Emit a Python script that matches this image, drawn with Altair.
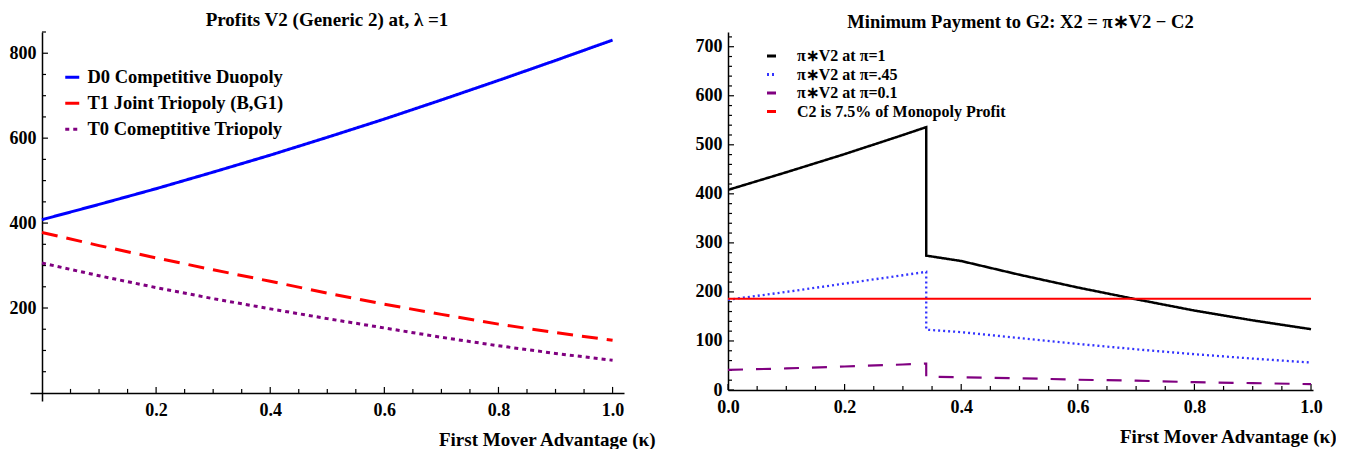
import altair as alt
import pandas as pd

# ---------------- data ----------------
kappa = [0.0, 0.1, 0.2, 0.3, 0.4, 0.5, 0.6, 0.7, 0.8, 0.9, 1.0]
d0 = [408, 444, 481, 520, 560, 602, 645, 690, 736, 783, 831]
t1 = [378, 347, 318, 290, 263, 235, 209, 185, 162, 142, 124]
t0 = [306, 276, 248, 222, 198, 175, 153, 131, 111, 93, 77]

left_names = ["D0 Competitive Duopoly", "T1 Joint Triopoly (B,G1)", "T0 Comeptitive Triopoly"]
left_colors = ["#0000ff", "#ff0000", "#800080"]
left_dashes = [[1, 0], [16, 9], [4, 4]]

right_kappa = [0.0, 0.1, 0.2, 0.3, 0.34, 0.34, 0.4, 0.5, 0.6, 0.7, 0.8, 0.9, 1.0]
pv_1 = [408, 444, 481, 520, 536, 274, 263, 235, 209, 185, 162, 142, 124]
pv_45 = [184, 200, 217, 234, 241, 123, 118, 106, 94, 83, 73, 64, 56]
pv_01 = [41, 44, 48, 52, 54, 27, 26, 24, 21, 19, 16, 14, 12]
c2_kappa = [0.0, 1.0]
c2 = [186, 186]

right_names = ["π∗V2 at π=1", "π∗V2 at π=.45", "π∗V2 at π=0.1", "C2 is 7.5% of Monopoly Profit"]
right_colors = ["#000000", "#3333ff", "#800080", "#ff0000"]
right_dashes = [[1, 0], [2, 3], [15, 13], [1, 0]]
right_widths = [2.5, 2, 3, 3]

# tick positions
lx_major = [0.2, 0.4, 0.6, 0.8, 1.0]
lx_minor = [0.05, 0.1, 0.15, 0.25, 0.3, 0.35, 0.45, 0.5, 0.55, 0.65, 0.7, 0.75, 0.85, 0.9, 0.95]
ly_major = [200, 400, 600, 800]
ly_minor = [50, 100, 150, 250, 300, 350, 450, 500, 550, 650, 700, 750, 850]
rx_major = [0.0, 0.2, 0.4, 0.6, 0.8, 1.0]
rx_minor = [0.05, 0.1, 0.15, 0.25, 0.3, 0.35, 0.45, 0.5, 0.55, 0.65, 0.7, 0.75, 0.85, 0.9, 0.95]
ry_major = [0, 100, 200, 300, 400, 500, 600, 700]
ry_minor = [20, 40, 60, 80, 120, 140, 160, 180, 220, 240, 260, 280, 320, 340, 360, 380,
            420, 440, 460, 480, 520, 540, 560, 580, 620, 640, 660, 680, 720]

FONT = "Liberation Serif"
XTITLE = "First Mover Advantage (κ)"


def panel(df, names, colors, dashes, widths, legend, xdom, ydom, W, H,
          xvals, yvals, xmaj, xmin, ymaj, ymin, xoff, yoff, title, title_size, title_dx,
          extra=None):
    xs = alt.Scale(domain=xdom, nice=False, zero=False)
    ys = alt.Scale(domain=ydom, nice=False, zero=False)
    xpx = (xdom[1] - xdom[0]) / W
    ypx = (ydom[1] - ydom[0]) / H
    xaxis = alt.Axis(values=xvals, format=".1f", offset=xoff, ticks=False, labelPadding=8,
                     labelFlush=False,
                     title=XTITLE, titleAnchor="end", titleAlign="right",
                     titleX=W + title_dx, titleY=52, titleBaseline="alphabetic")
    yaxis = alt.Axis(values=yvals, offset=yoff, ticks=False, labelPadding=6, labelFlush=False,
                     title=None)

    def X(f="k:Q"):
        return alt.X(f, scale=xs, axis=xaxis)

    def Y(f="v:Q"):
        return alt.Y(f, scale=ys, axis=yaxis)

    layers = []
    # inward ticks on the x axis
    for vals, ln in [(xmaj, 6), (xmin, 4)]:
        tdf = pd.DataFrame({"k": vals, "v": [0] * len(vals), "v2": [ln * ypx] * len(vals)})
        layers.append(alt.Chart(tdf).mark_rule(color="black", strokeWidth=1.2).encode(
            x=X(), y=Y(), y2="v2:Q"))
    # inward ticks on the y axis
    for vals, ln in [(ymaj, 6), (ymin, 4)]:
        tdf = pd.DataFrame({"v": vals, "k": [0] * len(vals), "k2": [ln * xpx] * len(vals)})
        layers.append(alt.Chart(tdf).mark_rule(color="black", strokeWidth=1.2).encode(
            x=X(), x2="k2:Q", y=Y()))

    cscale = alt.Scale(domain=names, range=colors)
    dscale = alt.Scale(domain=names, range=dashes)
    enc = dict(
        x=X(), y=Y(),
        color=alt.Color("s:N", scale=cscale, legend=legend),
        strokeDash=alt.StrokeDash("s:N", scale=dscale, legend=legend),
        order="i:Q",
    )
    if widths is not None:
        enc["strokeWidth"] = alt.StrokeWidth("s:N", scale=alt.Scale(domain=names, range=widths), legend=None)
        lines = alt.Chart(df).mark_line(clip=True).encode(**enc)
    else:
        lines = alt.Chart(df).mark_line(strokeWidth=3, clip=True).encode(**enc)
    layers.append(lines)

    chart = alt.layer(*layers)
    if extra is not None:
        chart = alt.layer(chart, *extra(cscale, dscale, W, H)).resolve_scale(y="independent")
    return chart.properties(
        width=W, height=H,
        title=alt.TitleParams(title, font=FONT, fontSize=title_size, fontWeight="bold",
                              color="black", offset=1),
    )


# ---------------- left panel ----------------
rows = []
for name, vals in zip(left_names, [d0, t1, t0]):
    for i, (k, v) in enumerate(zip(kappa, vals)):
        rows.append({"s": name, "k": k, "v": v, "i": i})
ldf = pd.DataFrame(rows)

leg_left = alt.Legend(orient="none", legendX=33, legendY=36, title=None,
                      symbolType="stroke", symbolSize=196, symbolStrokeWidth=3,
                      labelFont=FONT, labelFontSize=18.5, labelFontWeight="bold",
                      labelColor="black", rowPadding=7, labelOffset=6, padding=0,
                      labelLimit=400)

left = panel(ldf, left_names, left_colors, left_dashes, None, leg_left,
             [-0.021, 1.02], [-19, 850], 594, 369,
             lx_major, ly_major, lx_major, lx_minor, ly_major, ly_minor, -8, -12,
             "Profits V2 (Generic 2) at, λ =1", 19, 31)

# ---------------- right panel ----------------
rows = []
for name, ks, vals in zip(right_names, [right_kappa, right_kappa, right_kappa, c2_kappa],
                          [pv_1, pv_45, pv_01, c2]):
    for i, (k, v) in enumerate(zip(ks, vals)):
        rows.append({"s": name, "k": k, "v": v, "i": i})
rdf = pd.DataFrame(rows)


def right_legend(cscale, dscale, W, H):
    # compact (tightly spaced) legend, rows placed by their index
    base = alt.Chart(pd.DataFrame({"s": right_names, "r": list(range(len(right_names)))})
                     ).transform_calculate(ly="24 + 18.5 * datum.r")
    ypos = alt.Y("ly:Q", scale=alt.Scale(domain=[0, H], range=[0, H], nice=False, zero=False),
                 axis=None)
    sym = base.mark_rule(strokeWidth=3).encode(
        x=alt.value(39), x2=alt.value(48), y=ypos,
        color=alt.Color("s:N", scale=cscale, legend=None),
        strokeDash=alt.StrokeDash("s:N", scale=dscale, legend=None),
    )
    txt = base.mark_text(align="left", baseline="middle", font=FONT, fontSize=16,
                         fontWeight="bold", color="black").encode(
        x=alt.value(69), y=ypos, text="s:N")
    return [sym, txt]


right = panel(rdf, right_names, right_colors, right_dashes, right_widths, None,
              [0, 1.0034], [0, 730], 585, 358,
              rx_major, ry_major, rx_major, rx_minor, ry_major, ry_minor, 0, 0,
              "Minimum Payment to G2: X2 = π∗V2 − C2", 18.5, 23, extra=right_legend)

chart = alt.hconcat(left, right, spacing=40).resolve_scale(
    color="independent", strokeDash="independent", x="independent", y="independent"
).properties(
    padding={"left": 1, "top": 3, "right": 0, "bottom": 0}, background="white"
).configure_view(strokeWidth=0).configure_axis(
    labelFont=FONT, labelFontSize=18, labelFontWeight="bold", labelColor="black",
    titleFont=FONT, titleFontSize=19, titleFontWeight="bold", titleColor="black",
    domainColor="black", domainWidth=1.5, grid=False,
)

chart.save("out.html", embed_options={"renderer": "svg", "actions": False})
